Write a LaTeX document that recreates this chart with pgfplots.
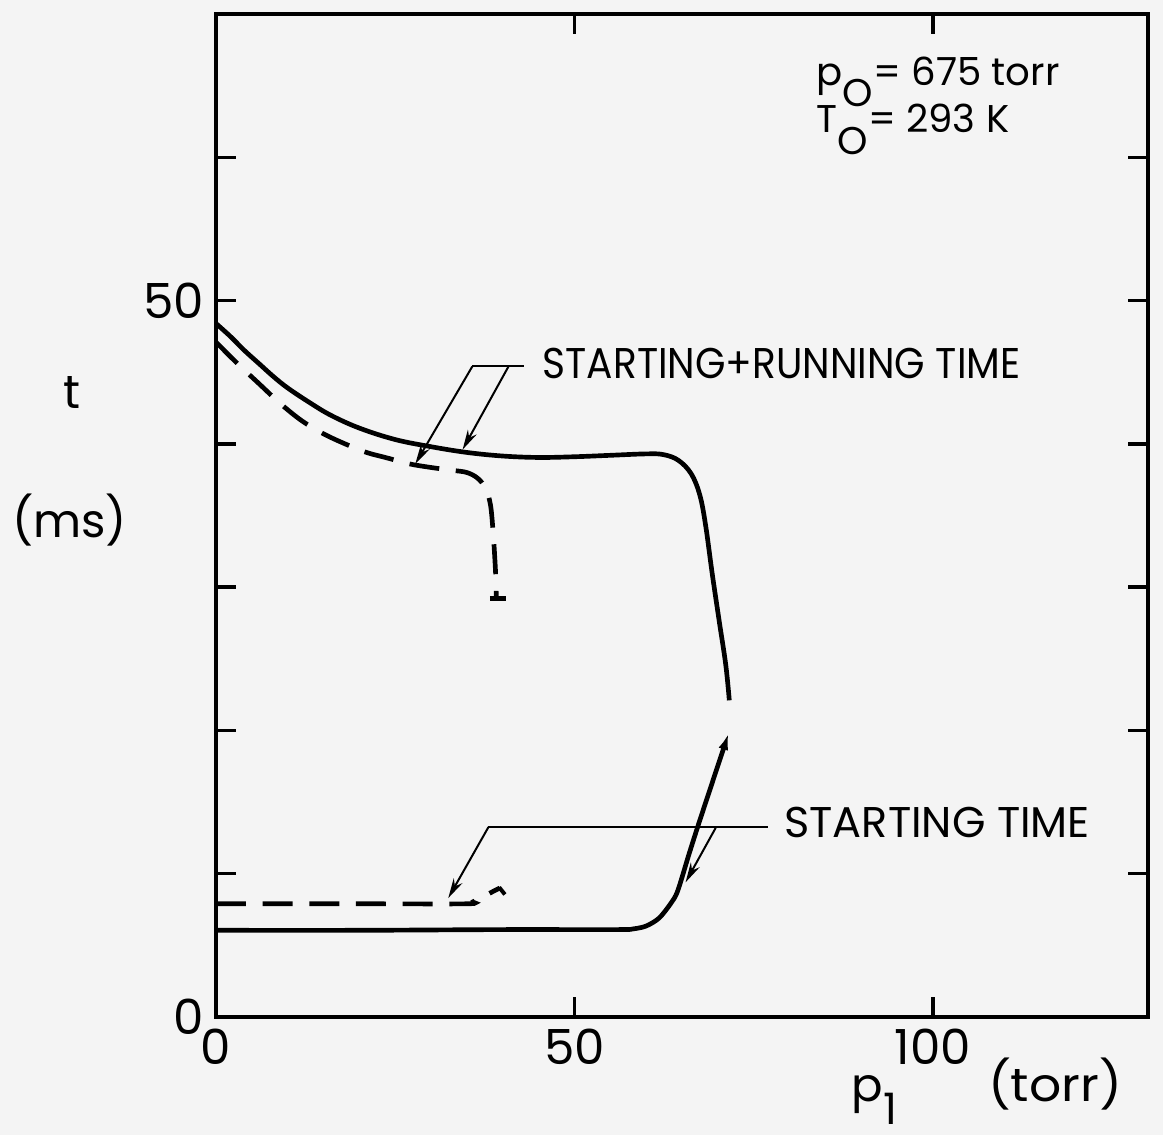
\documentclass[border=0pt]{standalone}
\usepackage{fontspec}
\setmainfont{Poppins}
\usepackage{pgfplots}
\pgfplotsset{compat=1.18}
\usetikzlibrary{arrows.meta}
\definecolor{paper}{RGB}{244,244,244}
\begin{document}
\begin{tikzpicture}
\path[use as bounding box, fill=paper] (-64.8pt,-35.4pt) rectangle (284.1pt,305.1pt);
\begin{axis}[
  at={(0pt,0pt)}, anchor=south west, scale only axis,
  width=279.6pt, height=300.9pt,
  xmin=0, xmax=130, ymin=0, ymax=70,
  xtick={0,50,100}, xticklabels={0,50,100},
  ytick={0,10,20,30,40,50,60}, yticklabels={0,,,,,50,},
  tick align=inside, major tick length=6pt,
  axis line style={line width=1pt},
  every tick/.style={black, line width=1pt},
  tick label style={font=\fontsize{14.5}{14.5}\selectfont},
  /pgf/number format/assume math mode=true,
  clip=false,
]
% starting + running time, solid
\addplot[line width=1.4pt, smooth, tension=0.6] coordinates {
 (0,48.4) (2,47.5) (4,46.5) (6,45.6) (8,44.7) (10,43.9) (13,42.9) (16,42.0)
 (20,41.1) (25,40.3) (30,39.8) (35,39.4) (40,39.15) (45,39.05) (50,39.1) (55,39.2)
 (60,39.3) (62.4,39.25) (64.5,38.85) (66.3,37.9) (67.5,36.4) (68.3,34.3)
 (69.2,31.0) (70.2,27.6) (71.1,24.6) (71.6,22.1)};
% starting time, solid
\addplot[line width=1.4pt, smooth, tension=0.5, -{Latex[length=5pt,width=3pt]}] coordinates {
 (0,6.05) (20,6.05) (40,6.1) (56,6.1) (58.2,6.15) (60,6.35) (61.8,6.9) (63.4,7.9)
 (64.4,8.8) (66.0,11.4) (67.6,13.9) (71.5,19.8)};
% starting + running time, dashed
\addplot[line width=1.4pt, smooth, tension=0.55, dash pattern=on 9pt off 5pt] coordinates {
 (0,47.1) (3,45.6) (6,44.2) (9,42.8) (12,41.6) (15,40.7) (18,40.0) (21,39.4)
 (24,39.0) (27,38.6) (30,38.35) (33,38.15) (35,38.0) (36.5,37.6) (37.6,36.9)
 (38.3,35.7) (38.7,33.5) (39.0,31.0) (39.1,29.2)};
\addplot[line width=1.4pt] coordinates {(38.2,29.2) (40.5,29.2)};
% starting time, dashed
\addplot[line width=1.4pt, smooth, tension=0.5, dash pattern=on 9pt off 5pt] coordinates {
 (0,7.9) (20,7.9) (35,7.9) (35.9,8.05) (37.3,8.4) (38.6,8.75) (39.6,9.0)};
\addplot[line width=1.2pt] coordinates {(39.5,9.05) (40.3,8.55)};
% leader lines
\addplot[line width=0.6pt] coordinates {(35.75,45.4) (42.9,45.4)};
\addplot[line width=0.6pt, -{Stealth[length=6pt,width=3pt]}] coordinates {(35.75,45.4) (27.8,38.6)};
\addplot[line width=0.6pt, -{Stealth[length=6pt,width=3pt]}] coordinates {(40.8,45.4) (34.4,39.6)};
\addplot[line width=0.6pt] coordinates {(38.0,13.25) (77.0,13.25)};
\addplot[line width=0.6pt, -{Stealth[length=6pt,width=3pt]}] coordinates {(38.0,13.25) (32.4,8.3)};
\addplot[line width=0.6pt, -{Stealth[length=6pt,width=3pt]}] coordinates {(69.7,13.2) (65.5,9.4)};
% texts
\node[anchor=west, inner sep=0pt, font=\fontsize{12.9}{12.9}\selectfont] at (axis cs:45.5,45.6) {\scalebox{0.91}[1]{STARTING+RUNNING TIME}};
\node[anchor=west, inner sep=0pt, font=\fontsize{12.9}{12.9}\selectfont] at (axis cs:79.2,13.6) {STARTING TIME};
\node[anchor=base west, inner sep=0pt, font=\fontsize{11.6}{11.6}\selectfont] at (axis cs:83.7,65.0) {p\raisebox{-0.55em}{O}= 675 torr};
\node[anchor=base west, inner sep=0pt, font=\fontsize{11.6}{11.6}\selectfont] at (axis cs:83.7,61.7) {T\raisebox{-0.55em}{O}= 293 K};
\node[font=\fontsize{14}{14}\selectfont] at (axis cs:-20.1,43.6) {t};
\node[font=\fontsize{14}{14}\selectfont] at (axis cs:-20.4,34.7) {(ms)};
\node[anchor=base west, inner sep=0pt, font=\fontsize{14}{14}\selectfont] at (axis cs:88.5,-5.9) {p};
\node[anchor=base west, inner sep=0pt, font=\fontsize{13}{13}\selectfont] at (axis cs:93.0,-7.5) {1};
\node[anchor=base west, inner sep=0pt, font=\fontsize{14}{14}\selectfont] at (axis cs:107.6,-5.9) {\scalebox{1.08}[1]{(torr)}};
\end{axis}
\end{tikzpicture}
\end{document}
